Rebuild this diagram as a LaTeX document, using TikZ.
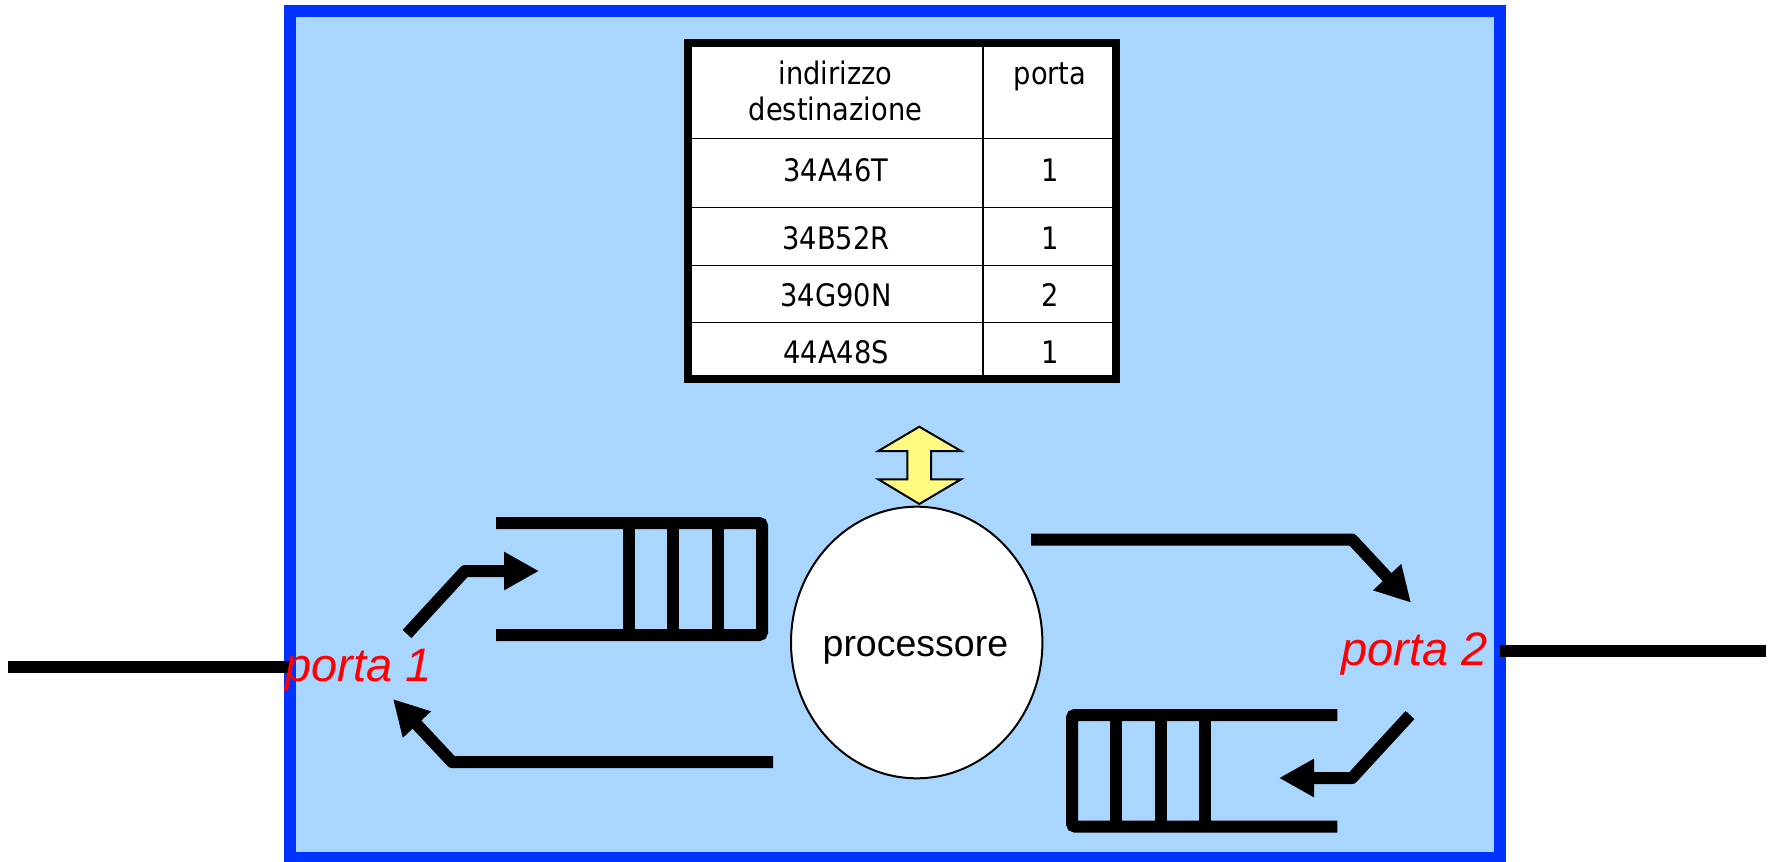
\documentclass[tikz,border=0pt]{standalone}
\usepackage{fontspec}
\newfontfamily\tabfont{DejaVu Sans}[FakeStretch=0.88]
\newfontfamily\arialfont{Liberation Sans}
\usetikzlibrary{arrows.meta,shapes.geometric}
\definecolor{bgblue}{RGB}{168,214,255}
\definecolor{edgeblue}{RGB}{0,51,255}
\definecolor{arrowyellow}{RGB}{255,250,128}
\begin{document}
\begin{tikzpicture}[x=1pt,y=-1pt,
  wire/.style={line width=12pt},
  flowarrow/.style={line width=12pt, line join=round, -{Triangle[length=35pt,width=36pt]}},
  queuebox/.style={line width=12pt, rounded corners=3pt},
  queuebar/.style={line width=12pt},
  cell/.style={font=\tabfont\fontsize{31}{35}\selectfont, inner sep=0pt, anchor=base},
  portlabel/.style={font=\arialfont\itshape\fontsize{47}{50}\selectfont, text=red, inner sep=0pt},
  procshape/.style={draw, ellipse, fill=white, line width=2pt, minimum width=251.4pt, minimum height=271.6pt, inner sep=0pt},
  proctext/.style={font=\arialfont\fontsize{37.5}{40}\selectfont, inner sep=0pt, anchor=base},
  dblarrow/.style={draw, fill=arrowyellow, line width=2pt, line join=miter},
]
\useasboundingbox (0,0) rectangle (1773,862);

% switch box
\draw[line width=12pt, draw=edgeblue, fill=bgblue] (289.5,11) rectangle (1500,858);

% external lines
\coordinate (extL) at (8,667);
\coordinate (borderL) at (289.5,667);
\coordinate (borderR) at (1500,651);
\coordinate (extR) at (1766,651);
\draw[wire] (extL) -- (borderL);
\draw[wire] (borderR) -- (extR);

% table
\fill[white] (688,43) rectangle (1116,379);
\draw[line width=1.5pt] (983,43) -- (983,379);
\foreach \yy in {138.3,207.7,265.7,322.7} \draw[line width=1.5pt] (688,\yy) -- (1116,\yy);
\draw[line width=8pt] (688,43) rectangle (1116,379);
\node[cell] (h1a) at (835.5,84.3) {indirizzo};
\node[cell] (h1b) at (835.5,120) {destinazione};
\node[cell] (h2) at (1050,84.3) {porta};
\node[cell] (a1) at (836,181) {34A46T};
\node[cell] (b1) at (1050,181) {1};
\node[cell] (a2) at (836,249.3) {34B52R};
\node[cell] (b2) at (1050,249.3) {1};
\node[cell] (a3) at (836,306.7) {34G90N};
\node[cell] (b3) at (1050,306.7) {2};
\node[cell] (a4) at (836,363.3) {44A48S};
\node[cell] (b4) at (1050,363.3) {1};

% double arrow
\draw[dblarrow] (919.3,426.7) -- (961,451) -- (931,451) -- (931,479.3) -- (961,479.3)
  -- (919.3,504) -- (878.3,479.3) -- (907.3,479.3) -- (907.3,451) -- (878.3,451) -- cycle;

% processor
\node[procshape] (proc) at (916.7,642.5) {};
\node[proctext] (proclabel) at (915.4,656.7) {processore};

% queue 1 (input from porta 1)
\draw[queuebox] (496,523) -- (762,523) -- (762,635) -- (496,635);
\foreach \xx in {629,673,718} \draw[queuebar] (\xx,523) -- (\xx,635);

% queue 2 (input from porta 2)
\draw[queuebox] (1337.4,715) -- (1072,715) -- (1072,826.5) -- (1337.4,826.5);
\foreach \xx in {1116,1161,1205} \draw[queuebar] (\xx,715) -- (\xx,826.5);

% port labels
\node[portlabel, anchor=base west] (p1) at (285,681.7) {porta 1};
\node[portlabel, anchor=base east] (p2) at (1488,665) {porta 2};

% flow arrows
\coordinate (a1s) at (407,634);
\coordinate (a1c) at (465,571);
\coordinate (a1e) at (539,571);
\draw[flowarrow] (a1s) -- (a1c) -- (a1e);

\coordinate (a2s) at (773,762);
\coordinate (a2c) at (452,762);
\coordinate (a2e) at (393,699);
\draw[flowarrow] (a2s) -- (a2c) -- (a2e);

\coordinate (a3s) at (1031,539.5);
\coordinate (a3c) at (1352,539.5);
\coordinate (a3e) at (1411,602.7);
\draw[flowarrow] (a3s) -- (a3c) -- (a3e);

\coordinate (a4s) at (1410,715);
\coordinate (a4c) at (1352,778);
\coordinate (a4e) at (1279,778);
\draw[flowarrow] (a4s) -- (a4c) -- (a4e);
\end{tikzpicture}
\end{document}
